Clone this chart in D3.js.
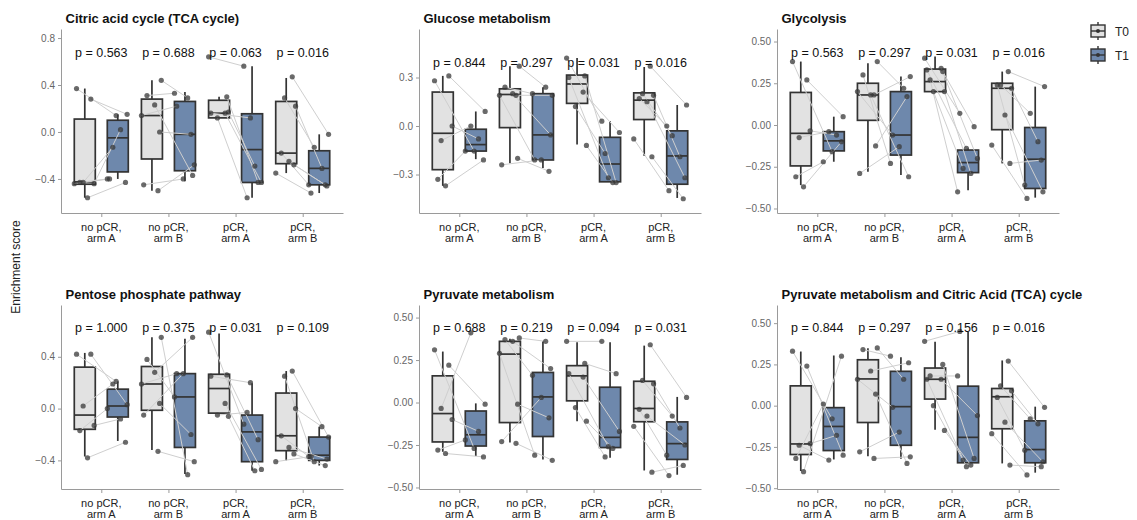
<!DOCTYPE html>
<html>
<head>
<meta charset="utf-8">
<script src="https://cdn.jsdelivr.net/npm/d3@7"></script>
<style>
  body { margin: 0; background: #fff; font-family: "Liberation Sans", Arial, sans-serif; }
</style>
</head>
<body>
<svg width="1137" height="520"></svg>
<script>
// groups on the x axis (two text lines each)
const groups = ["no pCR,|arm A", "no pCR,|arm B", "pCR,|arm A", "pCR,|arm B"];
const timepoints = ["T0", "T1"];

const titles = [
  "Citric acid cycle (TCA cycle)", "Glucose metabolism", "Glycolysis",
  "Pentose phosphate pathway", "Pyruvate metabolism",
  "Pyruvate metabolism and Citric Acid (TCA) cycle"
];
const pValues = [
  ["0.563", "0.688", "0.063", "0.016"],
  ["0.844", "0.297", "0.031", "0.016"],
  ["0.563", "0.297", "0.031", "0.016"],
  ["1.000", "0.375", "0.031", "0.109"],
  ["0.688", "0.219", "0.094", "0.031"],
  ["0.844", "0.297", "0.156", "0.016"]
];
const yTicks = [
  [-0.4, 0, 0.4, 0.8],
  [-0.3, 0, 0.3],
  [-0.5, -0.25, 0, 0.25, 0.5],
  [-0.4, 0, 0.4],
  [-0.5, -0.25, 0, 0.25, 0.5],
  [-0.5, -0.25, 0, 0.25, 0.5]
];
const yDomains = [
  [-0.69, 0.877], [-0.538, 0.60], [-0.527, 0.575],
  [-0.621, 0.80], [-0.509, 0.574], [-0.505, 0.61]
];

// box stats per group: [lower whisker, q1, median, q3, upper whisker]
const tcaBoxT0 = [[-0.56, -0.445, -0.425, 0.11, 0.37], [-0.50, -0.23, 0.14, 0.28, 0.44], [0.12, 0.12, 0.16, 0.27, 0.30], [-0.35, -0.27, -0.18, 0.26, 0.46]];
const tcaBoxT1 = [[-0.40, -0.34, -0.05, 0.10, 0.15], [-0.42, -0.33, -0.02, 0.26, 0.34], [-0.56, -0.43, -0.15, 0.155, 0.56], [-0.52, -0.45, -0.31, -0.16, -0.02]];
const glucoseBoxT0 = [[-0.37, -0.27, -0.045, 0.21, 0.31], [-0.23, -0.01, 0.195, 0.23, 0.37], [-0.115, 0.14, 0.26, 0.315, 0.42], [-0.185, 0.04, 0.16, 0.205, 0.365]];
const glucoseBoxT1 = [[-0.205, -0.155, -0.115, -0.02, 0.09], [-0.26, -0.21, -0.055, 0.20, 0.24], [-0.345, -0.345, -0.235, -0.07, 0.03], [-0.445, -0.36, -0.185, -0.03, 0.13]];
const glycoBoxT0 = [[-0.36, -0.245, -0.05, 0.195, 0.38], [-0.28, 0.028, 0.18, 0.25, 0.37], [0.20, 0.20, 0.26, 0.335, 0.41], [-0.23, -0.028, 0.22, 0.25, 0.32]];
const glycoBoxT1 = [[-0.22, -0.155, -0.095, -0.04, 0.05], [-0.30, -0.18, -0.06, 0.20, 0.29], [-0.39, -0.285, -0.225, -0.15, -0.14], [-0.435, -0.38, -0.205, -0.015, 0.23]];
const pentoseBoxT0 = [[-0.37, -0.16, -0.05, 0.32, 0.43], [-0.32, -0.013, 0.19, 0.325, 0.55], [-0.035, -0.035, 0.155, 0.265, 0.58], [-0.40, -0.325, -0.21, 0.12, 0.29]];
const pentoseBoxT1 = [[-0.25, -0.065, 0.02, 0.15, 0.21], [-0.505, -0.30, 0.09, 0.27, 0.54], [-0.48, -0.41, -0.18, -0.05, 0.195], [-0.44, -0.40, -0.36, -0.22, -0.14]];
const pyruvateBoxT0 = [[-0.29, -0.232, -0.065, 0.157, 0.30], [-0.236, -0.118, 0.285, 0.36, 0.375], [-0.11, 0.01, 0.157, 0.217, 0.355], [-0.40, -0.113, -0.035, 0.125, 0.335]];
const pyruvateBoxT1 = [[-0.315, -0.256, -0.19, -0.05, -0.005], [-0.335, -0.20, 0.033, 0.177, 0.36], [-0.325, -0.265, -0.205, 0.09, 0.355], [-0.425, -0.335, -0.242, -0.114, 0.033]];
const pyrTcaBoxT0 = [[-0.396, -0.296, -0.232, 0.12, 0.328], [-0.306, -0.102, 0.162, 0.278, 0.348], [-0.146, 0.04, 0.16, 0.228, 0.388], [-0.35, -0.14, 0.054, 0.104, 0.274]];
const pyrTcaBoxT1 = [[-0.326, -0.272, -0.126, -0.012, 0.304], [-0.322, -0.24, -0.006, 0.208, 0.294], [-0.346, -0.346, -0.192, 0.118, 0.448], [-0.406, -0.346, -0.266, -0.092, -0.006]];

// paired patient scores per group (same index = same patient)
const tcaT0 = [[0.37, 0.28, -0.43, -0.44, -0.43, -0.56, -0.44], [0.44, 0.31, 0.23, 0.14, 0.0, -0.45, -0.50], [0.64, 0.30, 0.16, 0.16, 0.12, 0.17], [0.47, 0.29, 0.22, -0.18, -0.25, -0.35, -0.28]];
const tcaT1 = [[0.14, 0.15, -0.13, 0.02, -0.40, -0.43, -0.40], [0.29, 0.33, -0.37, 0.22, -0.02, -0.40, -0.28], [0.56, -0.43, 0.12, -0.43, -0.56, -0.29], [-0.02, -0.13, -0.31, -0.45, -0.46, -0.52, -0.45]];
const glucoseT0 = [[0.28, 0.31, -0.09, 0.0, -0.33, -0.37], [0.37, 0.24, 0.20, 0.19, -0.20, -0.24, 0.19], [0.42, 0.31, 0.30, 0.21, 0.12, -0.12], [0.37, 0.20, 0.19, 0.17, 0.15, -0.08, -0.19]];
const glucoseT1 = [[-0.155, 0.09, 0.0, -0.08, -0.155, -0.21], [0.24, 0.20, -0.055, -0.21, -0.28, -0.21, 0.19], [0.03, -0.35, -0.32, -0.04, -0.17, -0.35], [0.13, -0.06, -0.19, 0.0, -0.32, -0.40, -0.45]];
const glycoT0 = [[0.38, 0.27, -0.075, -0.035, -0.31, -0.37], [0.38, 0.30, 0.18, 0.20, -0.125, -0.29, 0.18], [0.40, 0.32, 0.33, 0.34, 0.20, 0.20, 0.27], [0.32, 0.24, 0.22, 0.24, 0.06, -0.12, -0.23]];
const glycoT1 = [[-0.16, 0.05, -0.04, -0.06, -0.22, -0.10], [0.22, -0.23, -0.31, -0.06, 0.17, -0.13, 0.29], [0.07, -0.01, -0.14, -0.20, -0.26, -0.29, -0.40], [0.23, 0.07, -0.10, -0.36, -0.40, -0.44, -0.21]];
const pentoseT0 = [[0.42, 0.42, 0.02, -0.13, -0.17, -0.38], [0.55, 0.38, 0.28, 0.19, 0.04, -0.05, -0.33], [0.59, 0.26, 0.25, 0.04, -0.05, -0.06], [0.29, 0.25, 0.00, -0.21, -0.30, -0.41, -0.35]];
const pentoseT1 = [[0.21, 0.03, 0.19, -0.08, 0.00, -0.26], [-0.51, 0.09, 0.55, 0.27, -0.20, 0.27, -0.41], [-0.12, -0.24, 0.20, -0.47, -0.03, -0.48], [-0.22, -0.41, -0.14, -0.37, -0.39, -0.37, -0.44]];
const pyruvateT0 = [[0.31, 0.22, -0.035, -0.10, -0.28, -0.30], [0.38, 0.37, 0.36, 0.29, -0.01, -0.23, -0.24], [0.36, 0.23, 0.17, 0.15, -0.03, -0.11], [0.34, 0.13, 0.11, -0.04, -0.08, -0.14, -0.41]];
const pyruvateT1 = [[-0.27, -0.01, 0.41, -0.17, -0.22, -0.32], [0.36, 0.16, 0.20, -0.31, -0.09, 0.03, -0.34], [0.36, 0.17, -0.26, -0.17, -0.32, -0.27], [0.03, -0.08, -0.15, -0.31, -0.25, -0.43, -0.37]];
const pyrTcaT0 = [[0.33, 0.24, -0.24, -0.23, -0.32, -0.40], [0.35, 0.34, 0.21, 0.16, 0.07, -0.28, -0.32], [0.39, 0.25, 0.16, 0.16, 0.00, -0.15, 0.18], [0.27, 0.12, 0.09, 0.05, -0.10, -0.17, -0.36]];
const pyrTcaT1 = [[-0.08, -0.30, -0.33, -0.18, 0.01, 0.30], [0.16, 0.30, 0.26, -0.01, -0.35, -0.16, -0.31], [0.45, -0.32, -0.37, -0.06, -0.33, -0.36, 0.18], [-0.01, -0.08, -0.11, -0.27, -0.34, -0.42, -0.37]];

const boxes = [
  [tcaBoxT0, tcaBoxT1], [glucoseBoxT0, glucoseBoxT1], [glycoBoxT0, glycoBoxT1],
  [pentoseBoxT0, pentoseBoxT1], [pyruvateBoxT0, pyruvateBoxT1], [pyrTcaBoxT0, pyrTcaBoxT1]
];
const points = [
  [tcaT0, tcaT1], [glucoseT0, glucoseT1], [glycoT0, glycoT1],
  [pentoseT0, pentoseT1], [pyruvateT0, pyruvateT1], [pyrTcaT0, pyrTcaT1]
];

// layout
const colX = [61, 419, 777];
const rowY = [29, 305];
const plotW = 282, plotH = 184;
const pTextY = [28, 38, 28, 27, 27, 27];
const fills = { T0: "#e2e2e2", T1: "#6e88ac" };
const dodge = 16.5, boxW = 21;
const jit = [-0.75, 0.55, -0.15, 0.85, -0.45, 0.25, -0.95, 0.7];

const svg = d3.select("svg");

svg.append("text")
  .attr("transform", "translate(20,267) rotate(-90)")
  .attr("text-anchor", "middle")
  .attr("font-size", "12px")
  .attr("fill", "#222")
  .text("Enrichment score");

titles.forEach((title, p) => {
  const col = p % 3, row = Math.floor(p / 3);
  const g = svg.append("g").attr("transform", `translate(${colX[col]},${rowY[row]})`);

  const x = d3.scalePoint().domain(groups).range([0, plotW]).padding(0.6);
  const y = d3.scaleLinear().domain(yDomains[p]).range([plotH, 0]);
  const fmt = yTicks[p].some((t) => Math.abs(t * 10 - Math.round(t * 10)) > 1e-6) ? d3.format(".2f") : d3.format(".1f");

  // axes
  const yAxis = g.append("g")
    .call(d3.axisLeft(y).tickValues(yTicks[p]).tickFormat(fmt).tickSize(3).tickSizeOuter(0));
  const xAxis = g.append("g")
    .attr("transform", `translate(0,${plotH})`)
    .call(d3.axisBottom(x).tickSize(4).tickSizeOuter(0).tickFormat(""));
  [yAxis, xAxis].forEach((a) => {
    a.select(".domain").attr("stroke", "#9a9a9a");
    a.selectAll(".tick line").attr("stroke", "#9a9a9a");
  });
  yAxis.selectAll(".tick text")
    .attr("fill", "#666")
    .attr("font-size", "10px")
    .attr("font-family", "Liberation Sans, Arial, sans-serif");

  // two-line group labels
  groups.forEach((grp) => {
    const t = g.append("text")
      .attr("text-anchor", "middle")
      .attr("font-size", "11px")
      .attr("fill", "#222");
    grp.split("|").forEach((line, i) => {
      t.append("tspan")
        .attr("x", x(grp))
        .attr("y", plotH + 18 + i * 10.5)
        .text(line);
    });
  });

  // title
  g.append("text")
    .attr("x", 4.5)
    .attr("y", -6)
    .attr("font-size", "13px")
    .attr("font-weight", "bold")
    .attr("fill", "#111")
    .text(title);

  // boxes
  groups.forEach((grp, gi) => {
    timepoints.forEach((tp, ti) => {
      const [lo, q1, med, q3, hi] = boxes[p][ti][gi];
      const cx = x(grp) + (ti ? dodge : -dodge);
      g.append("line")
        .attr("x1", cx).attr("x2", cx)
        .attr("y1", y(hi)).attr("y2", y(lo))
        .attr("stroke", "#333").attr("stroke-width", 1.7);
      g.append("rect")
        .attr("x", cx - boxW / 2)
        .attr("y", y(q3))
        .attr("width", boxW)
        .attr("height", Math.max(1, y(q1) - y(q3)))
        .attr("fill", fills[tp])
        .attr("stroke", "#333")
        .attr("stroke-width", 1.7);
      g.append("line")
        .attr("x1", cx - boxW / 2).attr("x2", cx + boxW / 2)
        .attr("y1", y(med)).attr("y2", y(med))
        .attr("stroke", "#333").attr("stroke-width", 1.7);
    });
  });

  // paired lines, then points
  const px = (gi, ti, i) => x(groups[gi]) + (ti ? dodge : -dodge) + jit[(i + gi * 3 + ti * 2) % jit.length] * 11;
  groups.forEach((grp, gi) => {
    const t0 = points[p][0][gi], t1 = points[p][1][gi];
    t0.forEach((v, i) => {
      g.append("line")
        .attr("x1", px(gi, 0, i)).attr("y1", y(v))
        .attr("x2", px(gi, 1, i)).attr("y2", y(t1[i]))
        .attr("stroke", "#cfcfcf")
        .attr("stroke-width", 1);
    });
  });
  groups.forEach((grp, gi) => {
    timepoints.forEach((tp, ti) => {
      g.selectAll(null)
        .data(points[p][ti][gi])
        .enter()
        .append("circle")
        .attr("cx", (d, i) => px(gi, ti, i))
        .attr("cy", (d) => y(d))
        .attr("r", 2.6)
        .attr("fill", "#3a3a3a")
        .attr("fill-opacity", 0.75);
    });
  });

  // p-values
  groups.forEach((grp, gi) => {
    g.append("text")
      .attr("x", x(grp))
      .attr("y", pTextY[p])
      .attr("text-anchor", "middle")
      .attr("font-size", "12.5px")
      .attr("fill", "#111")
      .text(`p = ${pValues[p][gi]}`);
  });
});

// legend
const legend = svg.append("g").attr("transform", "translate(1091,0)");
timepoints.forEach((tp, i) => {
  const cy = 31 + i * 24;
  const lg = legend.append("g");
  lg.append("line").attr("x1", 7).attr("x2", 7).attr("y1", cy - 9).attr("y2", cy + 9)
    .attr("stroke", "#333").attr("stroke-width", 1.4);
  lg.append("rect").attr("x", 0).attr("y", cy - 6).attr("width", 14).attr("height", 12)
    .attr("fill", fills[tp]).attr("stroke", "#333").attr("stroke-width", 1.4);
  lg.append("line").attr("x1", 0).attr("x2", 14).attr("y1", cy).attr("y2", cy)
    .attr("stroke", "#333").attr("stroke-width", 1.4);
  lg.append("circle").attr("cx", 7).attr("cy", cy).attr("r", 2).attr("fill", "#333");
  lg.append("text").attr("x", 24).attr("y", cy + 4.5)
    .attr("font-size", "12px").attr("fill", "#222").text(tp);
});
</script>
</body>
</html>
